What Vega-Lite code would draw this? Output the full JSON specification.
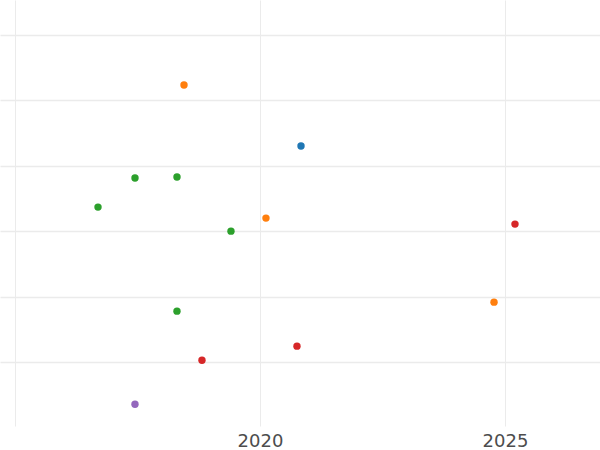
{
  "$schema": "https://vega.github.io/schema/vega-lite/v6.json",
  "width": 600,
  "height": 426,
  "padding": {"left": 0, "top": 0, "right": 0, "bottom": 24},
  "autosize": "none",
  "background": "white",
  "config": {"view": {"stroke": null}},
  "data": {"values": [
    {"year": 2018.449, "value": 5.236, "group": "B"},
    {"year": 2020.837, "value": 4.303, "group": "A"},
    {"year": 2017.449, "value": 3.814, "group": "C"},
    {"year": 2018.306, "value": 3.829, "group": "C"},
    {"year": 2016.694, "value": 3.370, "group": "C"},
    {"year": 2020.122, "value": 3.202, "group": "B"},
    {"year": 2019.408, "value": 3.003, "group": "C"},
    {"year": 2025.204, "value": 3.110, "group": "D"},
    {"year": 2024.776, "value": 1.918, "group": "B"},
    {"year": 2018.306, "value": 1.780, "group": "C"},
    {"year": 2020.755, "value": 1.245, "group": "D"},
    {"year": 2018.816, "value": 1.031, "group": "D"},
    {"year": 2017.449, "value": 0.358, "group": "E"}
  ]},
  "mark": {"type": "circle", "size": 55, "opacity": 1},
  "encoding": {
    "x": {
      "field": "year", "type": "quantitative",
      "scale": {"domain": [2014.694, 2026.939], "nice": false, "zero": false},
      "axis": {
        "title": null, "values": [2015, 2020, 2025],
        "labelExpr": "datum.value == 2015 ? '' : datum.label",
        "format": "d", "ticks": false, "domain": false,
        "grid": true, "gridColor": "#ebebeb", "gridWidth": 1,
        "labelFontSize": 18, "labelFont": "DejaVu Sans", "labelColor": "#4d4d4d",
        "labelPadding": 6
      }
    },
    "y": {
      "field": "value", "type": "quantitative",
      "scale": {"domain": [0.025, 6.535], "nice": false, "zero": false},
      "axis": {
        "title": null, "values": [1, 2, 3, 4, 5, 6],
        "labels": false, "ticks": false, "domain": false,
        "grid": true, "gridColor": "#ebebeb", "gridWidth": 1.5
      }
    },
    "color": {
      "field": "group", "type": "nominal",
      "scale": {"domain": ["A", "B", "C", "D", "E"], "range": ["#1f77b4", "#ff7f0e", "#2ca02c", "#d62728", "#9467bd"]},
      "legend": null
    }
  }
}
